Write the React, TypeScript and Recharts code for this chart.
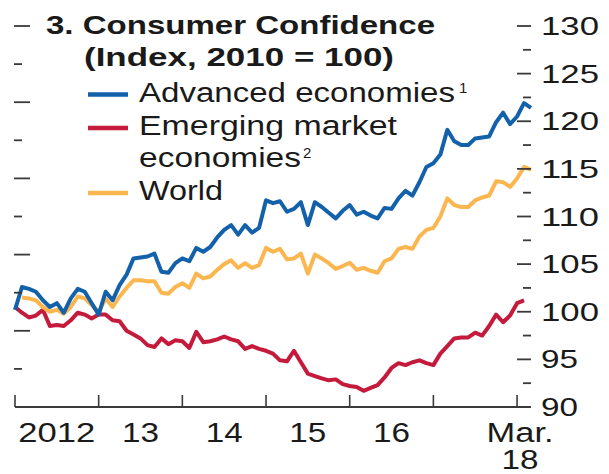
import React from 'react';
import { LineChart, Line, XAxis, YAxis, Legend } from 'recharts';

// Monthly observations, Jan 2012 (index 0) to Mar 2018 (index 74)
const advanced = [
  100.2, 102.6, 102.4, 102.1, 101.2, 100.5, 100.9, 99.9, 101.4, 102.4, 102.1, 100.9,
  99.7, 102.1, 101.2, 102.8, 103.9, 105.6, 105.7, 105.8, 106.1, 104.2, 104.1, 105.1,
  105.6, 105.3, 106.7, 106.3, 106.8, 107.8, 108.6, 109.1, 108.1, 109.1, 108.3, 108.8,
  111.7, 111.4, 111.6, 110.5, 110.8, 111.5, 109.1, 111.5, 111.0, 110.4, 109.8, 110.6,
  111.2, 110.2, 110.5, 110.1, 109.8, 110.9, 110.8, 111.9, 112.7, 112.2, 113.6, 115.2,
  115.6, 116.5, 119.1, 117.9, 117.5, 117.5, 118.2, 118.3, 118.4, 119.9, 120.9, 119.7,
  120.5, 121.9, 121.4,
];
const emerging: (number | null)[] = [
  100.5, 99.9, 99.4, 99.6, 100.2, 98.5, 98.6, 98.5, 99.1, 99.9, 99.7, 99.3,
  99.7, 99.7, 99.1, 99.0, 98.0, 97.6, 97.2, 96.5, 96.3, 97.2, 96.6, 97.0,
  96.9, 96.2, 97.9, 96.8, 96.9, 97.1, 97.4, 97.1, 96.9, 96.1, 96.4, 96.1,
  95.9, 95.6, 94.9, 94.8, 95.9, 94.7, 93.5, 93.25, 93.0, 92.8, 92.9, 92.4,
  92.2, 92.1, 91.7, 92.0, 92.3, 93.1, 94.1, 94.6, 94.4, 94.7, 94.9, 94.6,
  94.4, 95.6, 96.4, 97.2, 97.3, 97.3, 97.8, 97.5, 98.5, 99.7, 98.9, 99.6,
  100.9, 101.2, null,
];
const world: (number | null)[] = [
  null, 101.5, 101.4, 101.2, 100.5, 100.0, 100.2, 99.8, 100.5, 101.6, 101.4, 100.7,
  100.0, 101.4, 100.5, 101.6, 102.5, 103.3, 103.3, 103.2, 103.2, 102.0, 101.9, 102.6,
  103.0, 102.5, 104.0, 103.5, 103.7, 104.4, 105.0, 105.4, 104.6, 105.1, 104.6, 104.9,
  106.7, 106.3, 106.6, 105.5, 105.6, 106.1, 104.0, 106.0, 105.6, 105.1, 104.5, 104.8,
  105.15, 104.4, 104.6, 104.3, 104.1, 105.3, 105.6, 106.6, 106.8, 106.6, 107.9, 108.6,
  108.8, 110.0, 111.9, 111.2, 111.0, 111.0, 111.7, 112.0, 112.2, 113.7, 113.6, 113.1,
  114.0, 115.2, 114.9,
];

const yearTicks = [0, 12, 24, 36, 48, 60, 72];
const xLabels: { i: number; lines: string[] }[] = [
  { i: 6, lines: ['2012'] },
  { i: 18, lines: ['13'] },
  { i: 30, lines: ['14'] },
  { i: 42, lines: ['15'] },
  { i: 54, lines: ['16'] },
  { i: 72, lines: ['Mar.', '18'] },
];
const rightTicks = [90, 92.5, 95, 97.5, 100, 102.5, 105, 107.5, 110, 112.5, 115, 117.5, 120, 122.5, 125, 127.5, 130];
const leftTicks = [0, 1, 2, 3, 4, 5, 6, 7, 8, 9, 10];

const series = [
  { key: 'emerging', name: 'Emerging market economies', color: '#c41a3b' },
  { key: 'world', name: 'World', color: '#fcb64f' },
  { key: 'advanced', name: 'Advanced economies', color: '#1361ab' },
];

const data = advanced.map((a, i) => ({ i, advanced: a, emerging: emerging[i], world: world[i], guide: null }));

const FONT = '"Liberation Sans", Arial, sans-serif';
const INK = '#1a1a1a';
const TICK = '#3a3a3a';

const widthFor = (s: string) => {
  const map: Record<string, number> = { '2012': 77, 'Mar.': 67, '18': 37 };
  if (map[s] !== undefined) return map[s];
  return s.length * 18.5;
};

const XTick = (props: any) => {
  const { x, y, payload } = props;
  const v = payload.value;
  const lab = xLabels.find((l) => l.i === v);
  return (
    <g>
      {yearTicks.includes(v) && <line x1={x} x2={x} y1={y} y2={y - 12} stroke={TICK} strokeWidth={1.6} />}
      {lab &&
        lab.lines.map((t, k) => (
          <text
            key={k}
            x={x + (v === 72 ? 3 : 0)}
            y={y + 35 + k * 27}
            textAnchor="middle"
            fontFamily={FONT}
            fontSize={27}
            fill={INK}
            textLength={widthFor(t)}
            lengthAdjust="spacingAndGlyphs"
          >
            {t}
          </text>
        ))}
    </g>
  );
};

const RightTick = (props: any) => {
  const { x, y, payload } = props;
  const v = payload.value as number;
  const major = v % 5 === 0;
  const label = String(v);
  return (
    <g>
      <line x1={x - (major ? 14 : 8)} x2={x} y1={y} y2={y} stroke={TICK} strokeWidth={1.8} />
      {major && (
        <text
          x={x + 10}
          y={y + 9}
          fontFamily={FONT}
          fontSize={26}
          fill={INK}
          textLength={label.length === 3 ? 58 : 37}
          lengthAdjust="spacingAndGlyphs"
        >
          {label}
        </text>
      )}
    </g>
  );
};

const LeftTick = (props: any) => {
  const { y, payload } = props;
  const v = payload.value as number;
  if (v === 0) return <g />;
  const major = v % 2 === 0;
  return <line x1={14} x2={14 + (major ? 16 : 8)} y1={y} y2={y} stroke={TICK} strokeWidth={1.8} />;
};

const LegendContent = () => {
  const rows = [
    { color: '#1361ab', lines: [{ t: 'Advanced economies', w: 316, sup: '1', supX: 459 }], y: 101.5 },
    { color: '#c41a3b', lines: [{ t: 'Emerging market', w: 258 }, { t: 'economies', w: 162, sup: '2', supX: 303 }], y: 135 },
    { color: '#fcb64f', lines: [{ t: 'World', w: 84 }], y: 200 },
  ];
  return (
    <svg width={609} height={215} style={{ display: 'block' }}>
      <text x={46} y={34} fontFamily={FONT} fontWeight="bold" fontSize={26} fill={INK} textLength={389} lengthAdjust="spacingAndGlyphs">
        3. Consumer Confidence
      </text>
      <text x={84} y={66} fontFamily={FONT} fontWeight="bold" fontSize={26} fill={INK} textLength={310} lengthAdjust="spacingAndGlyphs">
        (Index, 2010 = 100)
      </text>
      {rows.map((r, ri) => (
        <g key={ri}>
          <line x1={88} x2={128} y1={r.y - 7} y2={r.y - 7} stroke={r.color} strokeWidth={4.5} />
          {r.lines.map((ln: any, k: number) => (
            <g key={k}>
              <text
                x={139}
                y={r.y + k * 32}
                fontFamily={FONT}
                fontSize={27}
                fill={INK}
                textLength={ln.w}
                lengthAdjust="spacingAndGlyphs"
              >
                {ln.t}
              </text>
              {ln.sup && (
                <text x={ln.supX} y={r.y + k * 32 - 9} fontFamily={FONT} fontSize={15} fill={INK}>
                  {ln.sup}
                </text>
              )}
            </g>
          ))}
        </g>
      ))}
    </svg>
  );
};

export default function App() {
  return (
    <div style={{ position: 'absolute', left: 0, top: 0, width: 609, height: 474, background: '#ffffff' }}>
      <LineChart width={609} height={474} data={data} margin={{ top: 26, right: 0, bottom: 0, left: 0 }}>
        <XAxis
          dataKey="i"
          type="number"
          domain={[0, 74]}
          ticks={[0, 6, 12, 18, 24, 30, 36, 42, 48, 54, 60, 72]}
          interval={0}
          height={67}
          tickLine={false}
          tickSize={0}
          tickMargin={0}
          axisLine={{ stroke: TICK, strokeWidth: 1.8 }}
          tick={<XTick />}
        />
        <YAxis
          yAxisId="left"
          orientation="left"
          width={15}
          type="number"
          domain={[0, 10]}
          allowDataOverflow
          ticks={leftTicks}
          interval={0}
          axisLine={false}
          tickLine={false}
          tickSize={0}
          tickMargin={0}
          tick={<LeftTick />}
        />
        <YAxis
          yAxisId="right"
          orientation="right"
          width={78}
          domain={[90, 130]}
          ticks={rightTicks}
          interval={0}
          axisLine={false}
          tickLine={false}
          tickSize={0}
          tickMargin={0}
          tick={<RightTick />}
        />
        <Legend
          layout="horizontal"
          verticalAlign="middle"
          wrapperStyle={{ left: 0, top: 0, width: 609, height: 215 }}
          content={<LegendContent />}
        />
        <Line
          yAxisId="left"
          dataKey="guide"
          stroke="none"
          dot={false}
          activeDot={false}
          legendType="none"
          isAnimationActive={false}
        />
        {series.map((s) => (
          <Line
            key={s.key}
            yAxisId="right"
            type="linear"
            dataKey={s.key}
            name={s.name}
            stroke={s.color}
            strokeWidth={4}
            dot={false}
            activeDot={false}
            isAnimationActive={false}
            strokeLinejoin="round"
          />
        ))}
      </LineChart>
    </div>
  );
}
